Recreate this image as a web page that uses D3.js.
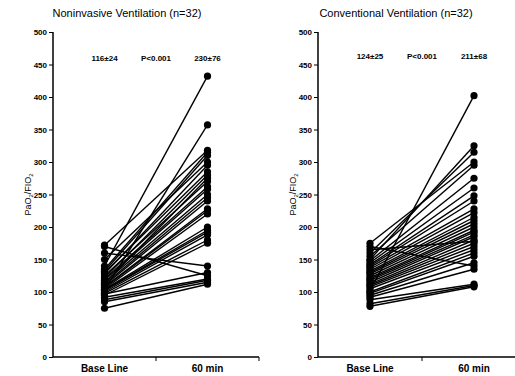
<!DOCTYPE html>
<html>
<head>
<meta charset="utf-8">
<script src="https://cdn.jsdelivr.net/npm/d3@7"></script>
<style>
  body { margin: 0; background: #fff; }
  text { font-family: "Liberation Sans", Arial, sans-serif; fill: #000; }
</style>
</head>
<body>
<svg class="chart" width="515" height="376"></svg>
<script>
// categories on the x axis
const categories = ["Base Line", "60 min"];
const yTicks = [0, 50, 100, 150, 200, 250, 300, 350, 400, 450, 500];

// Noninvasive ventilation, paired per patient (baseline -> 60 min)
const nivBase = [140, 103, 172, 170, 160, 150, 135, 132, 130, 128, 125, 122, 120, 118, 115, 113,
                 112, 110, 108, 107, 105, 104, 103, 102, 100, 98, 97, 95, 92, 88, 85, 75];
const niv60 = [432, 357, 318, 125, 140, 300, 315, 310, 285, 295, 270, 280, 262, 258, 250, 275,
               245, 240, 228, 225, 220, 200, 195, 192, 188, 180, 130, 175, 120, 118, 115, 112];

// Conventional ventilation
const cvBase = [102, 150, 175, 170, 165, 160, 155, 148, 145, 142, 140, 138, 135, 132, 130, 128,
                125, 122, 120, 118, 115, 112, 110, 108, 105, 100, 98, 95, 92, 88, 82, 78];
const cv60 = [402, 325, 300, 140, 178, 315, 295, 275, 260, 248, 240, 228, 222, 215, 210, 205,
              200, 195, 192, 188, 185, 180, 175, 170, 165, 160, 155, 145, 135, 112, 110, 108];

const titles = ["Noninvasive Ventilation (n=32)", "Conventional Ventilation (n=32)"];
const statsLeft = ["116\u00b124", "P<0.001", "230\u00b176"];
const statsRight = ["124\u00b125", "P<0.001", "211\u00b168"];

const panels = [
  { title: titles[0], base: nivBase, after: niv60, stats: statsLeft, x0: 53, x1: 259, tx: 127, statY: 61 },
  { title: titles[1], base: cvBase, after: cv60, stats: statsRight, x0: 318, x1: 526, tx: 396, statY: 59 }
];

const TOP = 32, BOTTOM = 357;
const y = d3.scaleLinear().domain([0, 500]).range([BOTTOM, TOP]);
const svg = d3.select(".chart");

panels.forEach(function(p) {
  var g = svg.append("g");
  var x = d3.scalePoint().domain(categories).range([p.x0, p.x1]).padding(0.5);
  var half = (p.x1 - p.x0) / 2;

  // title
  g.append("text")
   .attr("x", p.tx).attr("y", 17)
   .attr("text-anchor", "middle")
   .attr("font-size", "11px")
   .text(p.title);

  // y axis
  var yAxis = d3.axisLeft(y).tickValues(yTicks).tickSize(4).tickPadding(2);
  var ya = g.append("g").attr("transform", "translate(" + p.x0 + ",0)").call(yAxis);
  ya.select(".domain").attr("stroke-width", 1.5).attr("d", "M0," + TOP + "V" + BOTTOM);
  ya.selectAll(".tick line").attr("stroke-width", 1);
  ya.selectAll(".tick text").attr("font-size", "8px").attr("font-weight", "bold")
    .attr("font-family", "Liberation Sans, Arial, sans-serif");

  // x axis
  g.append("line")
   .attr("x1", p.x0).attr("x2", p.x1)
   .attr("y1", BOTTOM).attr("y2", BOTTOM)
   .attr("stroke", "#000").attr("stroke-width", 1.5);
  [p.x0 + half, p.x1].forEach(function(tx) {
    g.append("line").attr("x1", tx).attr("x2", tx)
     .attr("y1", BOTTOM).attr("y2", BOTTOM + 4)
     .attr("stroke", "#000").attr("stroke-width", 1);
  });
  g.selectAll(".xlab").data(categories).enter().append("text")
   .attr("x", function(d) { return x(d); })
   .attr("y", 372)
   .attr("text-anchor", "middle")
   .attr("font-size", "10px")
   .attr("font-weight", "bold")
   .text(function(d) { return d; });

  // y label
  var lab = g.append("text")
   .attr("transform", "translate(" + (p.x0 - 22) + "," + ((TOP + BOTTOM) / 2) + ") rotate(-90)")
   .attr("text-anchor", "middle")
   .attr("font-size", "9px");
  lab.append("tspan").text("PaO");
  lab.append("tspan").attr("font-size", "6px").attr("dy", 2).text("2");
  lab.append("tspan").attr("dy", -2).text("/FIO");
  lab.append("tspan").attr("font-size", "6px").attr("dy", 2).text("2");

  // stats
  g.selectAll(".stat").data(p.stats).enter().append("text")
   .attr("x", function(d, i) { return p.x0 + half * (0.5 + i * 0.5); })
   .attr("y", p.statY)
   .attr("text-anchor", "middle")
   .attr("font-size", "8px")
   .attr("font-weight", "bold")
   .text(function(d) { return d; });

  // paired lines
  var pairs = p.base.map(function(b, i) { return [b, p.after[i]]; });
  g.selectAll(".pair").data(pairs).enter().append("line")
   .attr("x1", x(categories[0])).attr("x2", x(categories[1]))
   .attr("y1", function(d) { return y(d[0]); })
   .attr("y2", function(d) { return y(d[1]); })
   .attr("stroke", "#000").attr("stroke-width", 1.4);

  // dots
  categories.forEach(function(c, ci) {
    g.selectAll(".dot" + ci).data(ci === 0 ? p.base : p.after).enter().append("circle")
     .attr("cx", x(c))
     .attr("cy", function(d) { return y(d); })
     .attr("r", 3.6)
     .attr("fill", "#000");
  });
});
</script>
</body>
</html>
